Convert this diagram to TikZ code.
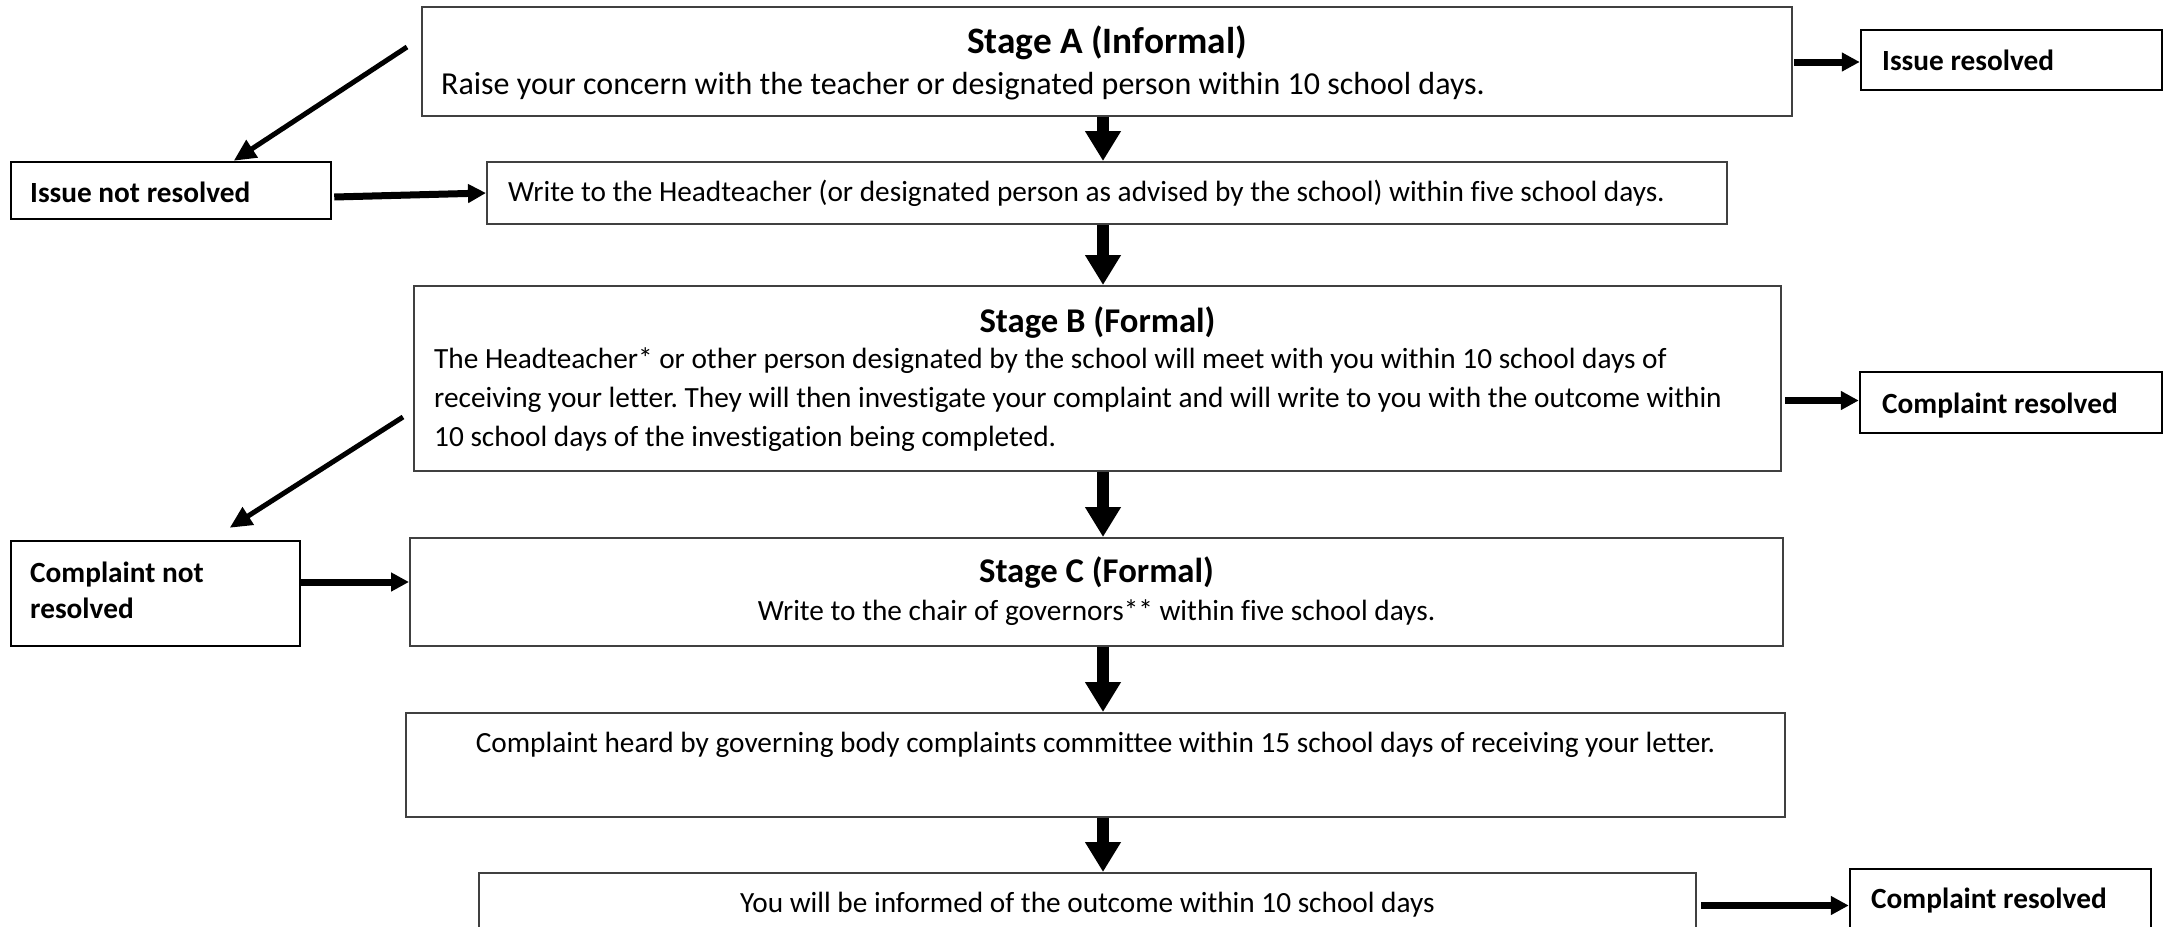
\documentclass[tikz,border=0pt]{standalone}
\usepackage{fontspec}
\setmainfont{Carlito}[Ligatures=NoCommon]
\usetikzlibrary{arrows.meta,calc}
\frenchspacing
\begin{document}
\begin{tikzpicture}[x=1pt,y=-1pt,
  bigbox/.style={draw=black!75,line width=2pt,inner sep=0pt},
  smallbox/.style={draw=black,line width=2.5pt,inner sep=0pt},
  bodyL/.style={font=\fontsize{32}{39}\selectfont,inner sep=0pt},
  body/.style={font=\fontsize{29.3}{36}\selectfont,inner sep=0pt},
  ttlL/.style={font=\fontsize{37.3}{45}\selectfont\bfseries,inner sep=0pt},
  ttl/.style={font=\fontsize{34.7}{42}\selectfont\bfseries,inner sep=0pt},
  lbl/.style={font=\fontsize{29.3}{36}\selectfont\bfseries,inner sep=0pt},
  downarr/.style={line width=12pt,-{Triangle[length=30pt,width=34pt]}},
  sidearr/.style={line width=7pt,-{Triangle[length=18pt,width=18pt]}},
  diagarr/.style={line width=5pt,-{Triangle[length=22pt,width=20pt]}},
]
\useasboundingbox (0,0) rectangle (2170,926);
\clip (0,0) rectangle (2170,926);
\fill[white] (0,0) rectangle (2170,926);

% boxes
\node[bigbox,minimum width=1370pt,minimum height=109pt] (A) at (1107,61.5) {};
\node[smallbox,minimum width=301pt,minimum height=60pt] (IR) at (2011.5,60) {};
\node[smallbox,minimum width=320pt,minimum height=57pt] (INR) at (171,190.5) {};
\node[bigbox,minimum width=1240pt,minimum height=62pt] (W) at (1107,193) {};
\node[bigbox,minimum width=1367pt,minimum height=185pt] (B) at (1097.5,378.5) {};
\node[smallbox,minimum width=302pt,minimum height=61pt] (CR1) at (2011,402.5) {};
\node[smallbox,minimum width=289pt,minimum height=105pt] (CNR) at (155.5,593.5) {};
\node[bigbox,minimum width=1373pt,minimum height=108pt] (C) at (1096.5,592) {};
\node[bigbox,minimum width=1379pt,minimum height=104pt] (K) at (1095.5,765) {};
\node[bigbox,minimum width=1217pt,minimum height=77pt] (O) at (1087.5,911.5) {};
\node[smallbox,minimum width=301pt,minimum height=81pt] (CR2) at (2000.5,909.5) {};

% texts
\node[ttlL,anchor=mid] (tA) at (1107,51) {Stage A (Informal)};
\node[bodyL,anchor=mid west] (bA) at (441,92) {Raise your concern with the teacher or designated person within 10 school days.};
\node[body,anchor=mid west] (bW) at (508,199) {Write to the Headteacher (or designated person as advised by the school) within five school days.};
\node[ttl,anchor=mid] (tB) at (1097.5,330) {Stage B (Formal)};
\node[body,anchor=mid west] (bB1) at (434,366) {The Headteacher* or other person designated by the school will meet with you within 10 school days of};
\node[body,anchor=mid west] (bB2) at (434,405) {receiving your letter. They will then investigate your complaint and will write to you with the outcome within};
\node[body,anchor=mid west] (bB3) at (434,444) {10 school days of the investigation being completed.};
\node[ttl,anchor=mid] (tC) at (1096.5,580) {Stage C (Formal)};
\node[body,anchor=mid] (bC) at (1096.5,618) {Write to the chair of governors** within five school days.};
\node[body,anchor=mid] (bK) at (1095.5,750) {Complaint heard by governing body complaints committee within 15 school days of receiving your letter.};
\node[body,anchor=mid] (bO) at (1087.5,910) {You will be informed of the outcome within 10 school days};

\node[lbl,anchor=mid west] (lIR) at (1882,68) {Issue resolved};
\node[lbl,anchor=mid west] (lINR) at (30,200) {Issue not resolved};
\node[lbl,anchor=mid west] (lCR1) at (1882,411) {Complaint resolved};
\node[lbl,anchor=mid west] (lCNR1) at (30,580) {Complaint not};
\node[lbl,anchor=mid west] (lCNR2) at (30,616) {resolved};
\node[lbl,anchor=mid west] (lCR2) at (1871,906) {Complaint resolved};

% connectors
\coordinate (ax) at (1103,0);
\draw[downarr] (A.south -| ax) -- (W.north -| ax);
\draw[downarr] (W.south -| ax) -- (B.north -| ax);
\draw[downarr] (B.south -| ax) -- (C.north -| ax);
\draw[downarr] (C.south -| ax) -- (K.north -| ax);
\draw[downarr] (K.south -| ax) -- (O.north -| ax);

\draw[sidearr] ($(A.east |- IR.west)+(1,2)$) -- ($(IR.west)+(0,2)$);
\draw[sidearr] ($(B.east |- CR1.west)+(3,-2)$) -- ($(CR1.west)+(0,-2)$);
\draw[sidearr] ($(O.east |- CR2.west)+(4,-4)$) -- ($(CR2.west)+(0,-4)$);
\draw[sidearr] ($(INR.east)+(2,6.5)$) -- (W.west);
\draw[sidearr] ($(CNR.east)+(0,-11.5)$) -- ($(C.west)+(0,-10)$);

\coordinate (d1) at (407,47);
\coordinate (d2) at (403,417);
\draw[diagarr] (d1) -- ($(INR.north west)+(224,0)$);
\draw[diagarr] (d2) -- ($(CNR.north west)+(220,-12)$);
\end{tikzpicture}
\end{document}
